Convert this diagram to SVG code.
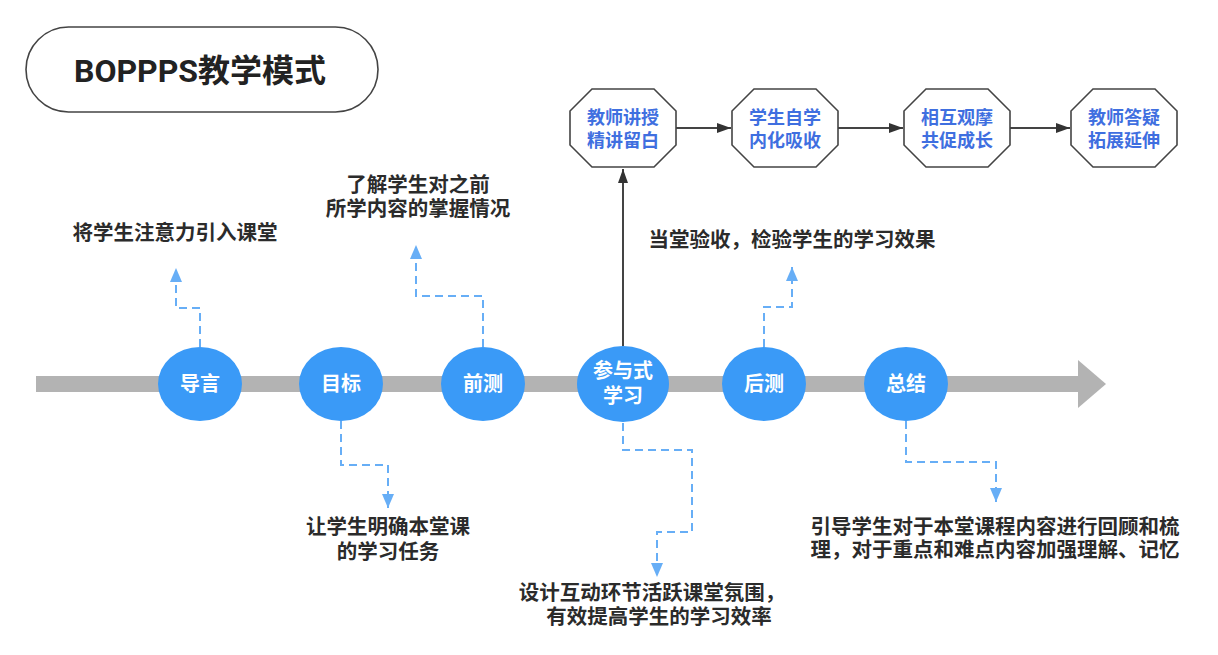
<svg xmlns="http://www.w3.org/2000/svg" width="1218" height="655" viewBox="0 0 1218 655">
<style>
.txt{font-family:"Noto Sans CJK SC","Noto Sans",sans-serif;font-weight:bold;}
.dark{fill:#2b2b2b;font-size:20.5px;}
.node{fill:#3a9af7;}
.ntxt{fill:#ffffff;font-size:20px;}
.oct{fill:#ffffff;stroke:#444444;stroke-width:1.6;}
.otxt{fill:#3f6fe0;font-size:18px;}
.dash{fill:none;stroke:#67aef6;stroke-width:2;stroke-dasharray:8 5;}
.solid{fill:none;stroke:#444444;stroke-width:2;}
</style>
<defs>
<marker id="ab" markerUnits="userSpaceOnUse" markerWidth="16" markerHeight="16" viewBox="0 0 16 16" refX="15" refY="8" orient="auto">
<path d="M1,2 L15,8 L1,14 Z" fill="#67aef6"/>
</marker>
<marker id="ad" markerUnits="userSpaceOnUse" markerWidth="16" markerHeight="16" viewBox="0 0 16 16" refX="15" refY="8" orient="auto">
<path d="M1,3 L15,8 L1,13 Z" fill="#333333"/>
</marker>
</defs>
<rect width="1218" height="655" fill="#ffffff"/>

<g id="title">
<rect x="26" y="27" width="352" height="85" rx="42.5" fill="#ffffff" stroke="#444444" stroke-width="1.6"/>
<text x="200" y="82" text-anchor="middle" class="txt" style="font-family:Roboto,'Noto Sans CJK SC',sans-serif;font-size:32px;fill:#222222">BOPPPS教学模式</text>
</g>

<g id="timeline">
<rect x="36" y="376" width="1044" height="16" fill="#b3b3b3"/>
<polygon points="1078,360 1106,384 1078,408" fill="#b3b3b3"/>
</g>

<g id="connectors">
<path class="dash" d="M200,347 V308 H176 V268" marker-end="url(#ab)"/>
<path class="dash" d="M483,347 V296 H416 V245" marker-end="url(#ab)"/>
<path class="dash" d="M764,347 V307 H792 V267" marker-end="url(#ab)"/>
<path class="dash" d="M341,421 V465 H388 V508" marker-end="url(#ab)"/>
<path class="dash" d="M623,423 V450 H692 V532 H657 V577" marker-end="url(#ab)"/>
<path class="dash" d="M906,421 V462 H996 V502" marker-end="url(#ab)"/>
<path class="solid" d="M623,346 V169" marker-end="url(#ad)"/>
<path class="solid" d="M676,128 H731" marker-end="url(#ad)"/>
<path class="solid" d="M838,128 H903" marker-end="url(#ad)"/>
<path class="solid" d="M1010,128 H1070" marker-end="url(#ad)"/>
</g>

<g id="n-daoyan">
<ellipse class="node" cx="200" cy="384" rx="42" ry="37"/>
<text class="txt ntxt" x="200" y="391" text-anchor="middle">导言</text>
</g>
<g id="n-mubiao">
<ellipse class="node" cx="341" cy="384" rx="42" ry="37"/>
<text class="txt ntxt" x="341" y="391" text-anchor="middle">目标</text>
</g>
<g id="n-qiance">
<ellipse class="node" cx="483" cy="384" rx="42" ry="37"/>
<text class="txt ntxt" x="483" y="391" text-anchor="middle">前测</text>
</g>
<g id="n-canyu">
<ellipse class="node" cx="623" cy="384" rx="46" ry="38"/>
<text class="txt ntxt" text-anchor="middle"><tspan x="623" y="378">参与式</tspan><tspan x="623" y="403">学习</tspan></text>
</g>
<g id="n-houce">
<ellipse class="node" cx="764" cy="384" rx="42" ry="37"/>
<text class="txt ntxt" x="764" y="391" text-anchor="middle">后测</text>
</g>
<g id="n-zongjie">
<ellipse class="node" cx="906" cy="384" rx="42" ry="37"/>
<text class="txt ntxt" x="906" y="391" text-anchor="middle">总结</text>
</g>

<g id="o1">
<polygon class="oct" points="592,89 654,89 676,111 676,145 654,167 592,167 570,145 570,111"/>
<text class="txt otxt" text-anchor="middle"><tspan x="623" y="124">教师讲授</tspan><tspan x="623" y="147">精讲留白</tspan></text>
</g>
<g id="o2">
<polygon class="oct" points="754,89 816,89 838,111 838,145 816,167 754,167 732,145 732,111"/>
<text class="txt otxt" text-anchor="middle"><tspan x="785" y="124">学生自学</tspan><tspan x="785" y="147">内化吸收</tspan></text>
</g>
<g id="o3">
<polygon class="oct" points="926,89 988,89 1010,111 1010,145 988,167 926,167 904,145 904,111"/>
<text class="txt otxt" text-anchor="middle"><tspan x="957" y="124">相互观摩</tspan><tspan x="957" y="147">共促成长</tspan></text>
</g>
<g id="o4">
<polygon class="oct" points="1093,89 1155,89 1177,111 1177,145 1155,167 1093,167 1071,145 1071,111"/>
<text class="txt otxt" text-anchor="middle"><tspan x="1124" y="124">教师答疑</tspan><tspan x="1124" y="147">拓展延伸</tspan></text>
</g>

<g id="t-daoyan"><text class="txt dark" x="175" y="240" text-anchor="middle">将学生注意力引入课堂</text></g>
<g id="t-qiance">
<text class="txt dark" text-anchor="middle"><tspan x="418" y="192">了解学生对之前</tspan><tspan x="418" y="216">所学内容的掌握情况</tspan></text>
</g>
<g id="t-houce"><text class="txt dark" x="792" y="247" text-anchor="middle">当堂验收，检验学生的学习效果</text></g>
<g id="t-mubiao">
<text class="txt dark" text-anchor="middle"><tspan x="388" y="534">让学生明确本堂课</tspan><tspan x="388" y="559">的学习任务</tspan></text>
</g>
<g id="t-canyu">
<text class="txt dark" text-anchor="middle"><tspan x="652" y="600">设计互动环节活跃课堂氛围，</tspan><tspan x="659" y="624">有效提高学生的学习效率</tspan></text>
</g>
<g id="t-zongjie">
<text class="txt dark" text-anchor="middle"><tspan x="995" y="534">引导学生对于本堂课程内容进行回顾和梳</tspan><tspan x="995" y="557">理，对于重点和难点内容加强理解、记忆</tspan></text>
</g>
</svg>
